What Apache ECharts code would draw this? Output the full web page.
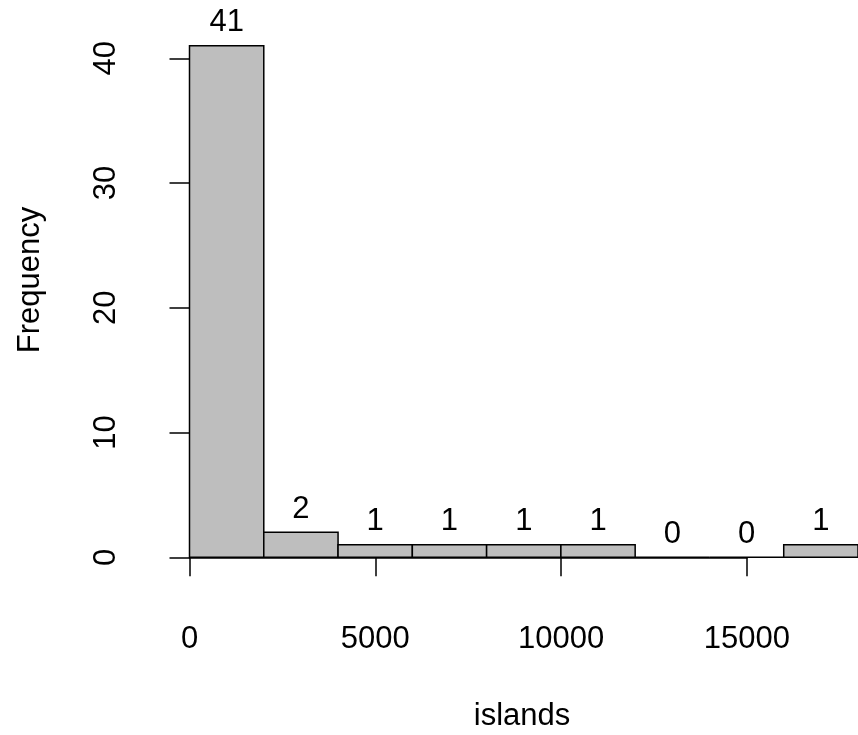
<!DOCTYPE html>
<html>
<head>
<meta charset="utf-8">
<script src="https://cdn.jsdelivr.net/npm/echarts@6/dist/echarts.min.js"></script>
<style>
  html, body { margin: 0; padding: 0; background: #fff; }
  #chart { width: 858px; height: 735px; }
</style>
</head>
<body>
<div id="chart"></div>
<script>
// Histogram of island areas: bin edges and counts
const binStarts = [0, 2000, 4000, 6000, 8000, 10000, 12000, 14000, 16000];
const binEnds   = [2000, 4000, 6000, 8000, 10000, 12000, 14000, 16000, 18000];
const counts    = [41, 2, 1, 1, 1, 1, 0, 0, 1];

// Axis tick settings
const xTickMin = 0, xTickMax = 15000, xTickStep = 5000;
const yTickMin = 0, yTickMax = 40, yTickStep = 10;

const xLabel = 'islands';
const yLabel = 'Frequency';

const FONT = '"Liberation Sans", Arial, Helvetica, sans-serif';
const FS = 31;

const bins = binStarts.map((s, i) => [s, binEnds[i], counts[i]]);

const chart = echarts.init(document.getElementById('chart'), null, { renderer: 'canvas' });

chart.setOption({
  backgroundColor: '#ffffff',
  animation: false,
  grid: [
    { left: 189.5, top: 58.3, width: 668.9, height: 499 },
    { left: 189.5, top: 58.3, width: 557.4, height: 499 }
  ],
  xAxis: [
    { gridIndex: 0, type: 'value', min: 0, max: binEnds[binEnds.length - 1], show: false },
    {
      gridIndex: 1, type: 'value', min: xTickMin, max: xTickMax, interval: xTickStep,
      offset: 22.7,
      axisLine: { show: true, lineStyle: { color: '#000', width: 1.5 } },
      axisTick: { show: true, length: 19, inside: false, lineStyle: { color: '#000', width: 1.5 } },
      axisLabel: { show: true, margin: 44, color: '#000', fontSize: FS, fontFamily: FONT,
                   showMinLabel: true, showMaxLabel: true,
                   formatter: v => String(v) },
      splitLine: { show: false }
    }
  ],
  yAxis: [
    {
      gridIndex: 0, type: 'value', min: yTickMin, max: yTickMax, interval: yTickStep,
      offset: 26.5,
      axisLine: { show: true, lineStyle: { color: '#000', width: 1.5 } },
      axisTick: { show: true, length: 20, inside: false, lineStyle: { color: '#000', width: 1.5 } },
      axisLabel: { show: true, rotate: 90, margin: 41, color: '#000', fontSize: FS, fontFamily: FONT,
                   showMinLabel: true, showMaxLabel: true,
                   formatter: v => String(v) },
      splitLine: { show: false }
    },
    { gridIndex: 1, type: 'value', min: yTickMin, max: yTickMax, show: false }
  ],
  series: [
    {
      type: 'custom',
      xAxisIndex: 0,
      yAxisIndex: 0,
      clip: false,
      data: bins,
      encode: { x: [0, 1], y: 2 },
      renderItem: function (params, api) {
        const x0 = api.value(0), x1 = api.value(1), c = api.value(2);
        const pTop = api.coord([x0, c]);
        const pBot = api.coord([x1, 0]);
        return {
          type: 'group',
          children: [
            {
              type: 'rect',
              shape: { x: pTop[0], y: pTop[1], width: pBot[0] - pTop[0], height: pBot[1] - pTop[1] },
              style: { fill: '#BEBEBE', stroke: '#000', lineWidth: 1.5 }
            },
            {
              type: 'text',
              style: {
                text: String(c),
                x: (pTop[0] + pBot[0]) / 2,
                y: pTop[1] - 23.2,
                align: 'center',
                verticalAlign: 'middle',
                fontSize: FS,
                fontFamily: FONT,
                fill: '#000'
              }
            }
          ]
        };
      }
    }
  ],
  graphic: [
    {
      type: 'text',
      x: 522, y: 716,
      style: { text: xLabel, align: 'center', verticalAlign: 'middle', fontSize: FS, fontFamily: FONT, fill: '#000' }
    },
    {
      type: 'text',
      x: 30, y: 280,
      rotation: Math.PI / 2,
      style: { text: yLabel, align: 'center', verticalAlign: 'middle', fontSize: FS, fontFamily: FONT, fill: '#000' }
    }
  ]
});
</script>
</body>
</html>
